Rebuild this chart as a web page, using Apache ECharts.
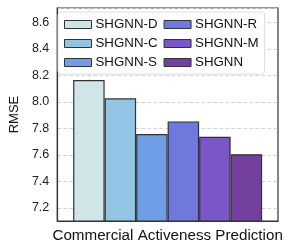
<!DOCTYPE html>
<html>
<head>
<meta charset="utf-8">
<script src="https://cdn.jsdelivr.net/npm/echarts@6/dist/echarts.min.js"></script>
<style>
html,body{margin:0;padding:0;background:#fff;}
#chart{width:287px;height:247px;}
</style>
</head>
<body>
<div id="chart"></div>
<script>
var categories = ['Commercial Activeness Prediction'];
var seriesNames = ['SHGNN-D', 'SHGNN-C', 'SHGNN-S', 'SHGNN-R', 'SHGNN-M', 'SHGNN'];
var seriesValues = [8.166, 8.027, 7.757, 7.853, 7.736, 7.605];
var seriesColors = ['#d0e5e8', '#92c5e3', '#6f9de6', '#7077dd', '#7b56c6', '#7440a0'];
var yMin = 7.1, yMax = 8.71;

var chart = echarts.init(document.getElementById('chart'), null, {renderer: 'canvas'});
var series = seriesNames.map(function (name, i) {
  var s = {
    name: name,
    type: 'bar',
    data: [seriesValues[i]],
    barWidth: 31.5,
    barGap: '0%',
    itemStyle: {color: seriesColors[i], borderColor: '#333333', borderWidth: 1.2},
    emphasis: {disabled: true}
  };
  if (i === 0) {
    s.markLine = {
      silent: true, symbol: 'none', z: 1,
      label: {show: false},
      lineStyle: {type: 'dashed', color: '#d4d4d4', width: 1},
      data: [{xAxis: 0}]
    };
  }
  return s;
});

chart.setOption({
  animation: false,
  textStyle: {fontFamily: 'Liberation Sans'},
  grid: {left: 43.5, right: 9, top: 8, bottom: 26, show: true, borderColor: '#333333', borderWidth: 1.2, backgroundColor: 'transparent'},
  legend: {
    orient: 'vertical',
    left: 58, top: 12, height: 54,
    padding: [6, 6, 5, 6],
    itemGap: 6,
    itemWidth: 27, itemHeight: 8,
    backgroundColor: '#ffffff',
    borderColor: '#dddddd', borderWidth: 1, borderRadius: 3,
    icon: 'rect',
    itemStyle: {borderColor: '#333333', borderWidth: 1},
    textStyle: {fontSize: 13.3, color: '#111111', fontFamily: 'Liberation Sans', lineHeight: 13, padding: [0, 0, 0, -1]},
    data: seriesNames
  },
  xAxis: {
    type: 'category',
    data: categories,
    axisLine: {show: true, lineStyle: {color: '#333333', width: 1.2}},
    axisTick: {show: false},
    axisLabel: {fontSize: 15.2, color: '#111111', margin: 7, fontFamily: 'Liberation Sans'},
    splitLine: {show: false}
  },
  yAxis: {
    type: 'value',
    min: yMin, max: yMax,
    splitNumber: 8,
    name: 'RMSE',
    nameLocation: 'middle',
    nameGap: 33,
    nameTextStyle: {fontSize: 13, color: '#111111', fontFamily: 'Liberation Sans'},
    axisLine: {show: true, lineStyle: {color: '#333333', width: 1.2}},
    axisTick: {show: false},
    axisLabel: {
      fontSize: 12.5, color: '#222222', margin: 8, showMinLabel: false, showMaxLabel: false,
      formatter: function (v) {
        var k = Math.round(v * 10);
        if (Math.abs(v * 10 - k) > 1e-6 || k % 2 !== 0) return '';
        return v.toFixed(1);
      }
    },
    splitLine: {show: true, lineStyle: {type: 'dashed', color: '#d4d4d4', width: 1}}
  },
  series: series
});
</script>
</body>
</html>
